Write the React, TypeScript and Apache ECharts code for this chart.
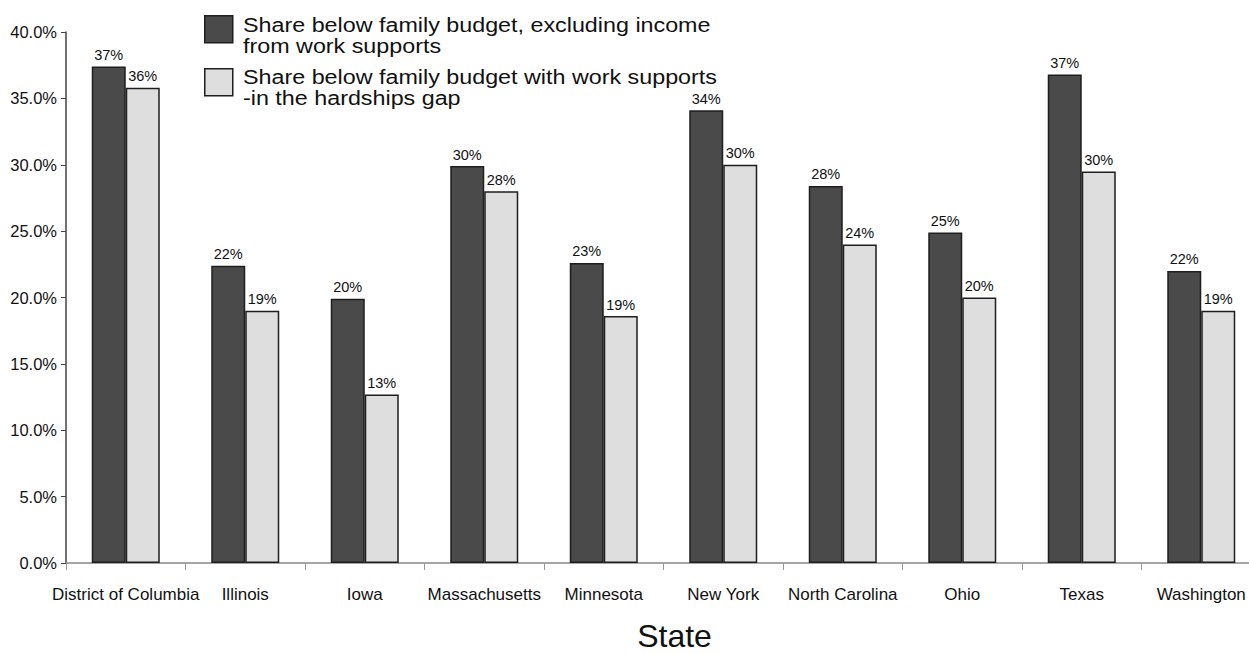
import React, { useEffect, useRef } from "react";
import * as echarts from "echarts";

const states = [
  "District of Columbia",
  "Illinois",
  "Iowa",
  "Massachusetts",
  "Minnesota",
  "New York",
  "North Carolina",
  "Ohio",
  "Texas",
  "Washington",
];
const excludingSupports = [37.4, 22.4, 19.9, 29.9, 22.6, 34.1, 28.4, 24.9, 36.8, 22.0];
const withSupports = [35.8, 19.0, 12.7, 28.0, 18.6, 30.0, 24.0, 20.0, 29.5, 19.0];
const seriesNames = [
  "Share below family budget, excluding income\nfrom work supports",
  "Share below family budget with work supports\n-in the hardships gap",
];
const axisTitle = "State";
const FONT = "Liberation Sans, Arial, sans-serif";
const DARK = "#4a4a4a";
const LIGHT = "#dedede";
const BORDER = "#1e1e1e";

export default function App() {
  const ref = useRef<HTMLDivElement>(null);
  useEffect(() => {
    const chart = echarts.init(ref.current!, null, { renderer: "svg" });
    const label = {
      show: true,
      position: "top" as const,
      distance: 4,
      fontFamily: FONT,
      fontSize: 14.5,
      color: "#111",
      formatter: (p: any) => Math.round(p.value) + "%",
    };
    const legendText = (i: number, y: number) => ({
      type: "text",
      x: 243,
      y,
      scaleX: 1.11,
      style: {
        text: seriesNames[i],
        fontSize: 21,
        lineHeight: 21,
        fill: "#111",
        fontFamily: FONT,
        verticalAlign: "top",
      },
    });
    chart.setOption({
      animation: false,
      backgroundColor: "#fff",
      textStyle: { fontFamily: FONT },
      grid: { left: 66, right: -12, top: 32, bottom: 91, containLabel: false, outerBoundsMode: "none" },
      xAxis: {
        type: "category",
        data: states,
        name: axisTitle,
        nameLocation: "middle",
        nameGap: 57,
        nameTextStyle: {
          fontSize: 32,
          lineHeight: 32,
          color: "#111",
          fontFamily: FONT,
          padding: [0, 0, 0, 22],
        },
        axisLine: { lineStyle: { color: "#888", width: 1.5 } },
        axisTick: { show: true, length: 7, lineStyle: { color: "#999" } },
        axisLabel: { fontSize: 17, color: "#111", margin: 23, fontFamily: FONT, interval: 0 },
      },
      yAxis: {
        type: "value",
        min: 0,
        max: 40,
        interval: 5,
        splitLine: { show: false },
        axisLine: { show: true, lineStyle: { color: "#444", width: 1.5 } },
        axisTick: { show: true, length: 5, lineStyle: { color: "#444" } },
        axisLabel: {
          fontSize: 16.5,
          color: "#111",
          margin: 9,
          fontFamily: FONT,
          formatter: (v: number) => v.toFixed(1) + "%",
        },
      },
      series: [
        {
          type: "bar",
          name: seriesNames[0],
          data: excludingSupports,
          barWidth: 34,
          barGap: "0%",
          itemStyle: { color: DARK, borderColor: BORDER, borderWidth: 1.5 },
          label,
        },
        {
          type: "bar",
          name: seriesNames[1],
          data: withSupports,
          barWidth: 34,
          barGap: "0%",
          itemStyle: { color: LIGHT, borderColor: BORDER, borderWidth: 1.5 },
          label,
        },
      ],
      graphic: [
        { type: "rect", left: 204, top: 15, shape: { width: 28, height: 27 }, style: { fill: DARK, stroke: BORDER, lineWidth: 1.5 } },
        legendText(0, 14),
        { type: "rect", left: 204, top: 68, shape: { width: 28, height: 27 }, style: { fill: LIGHT, stroke: BORDER, lineWidth: 1.5 } },
        legendText(1, 66),
      ],
    });
    return () => chart.dispose();
  }, []);
  return (
    <div
      ref={ref}
      style={{ position: "absolute", left: 0, top: 0, width: 1249, height: 654, overflow: "hidden" }}
    />
  );
}
